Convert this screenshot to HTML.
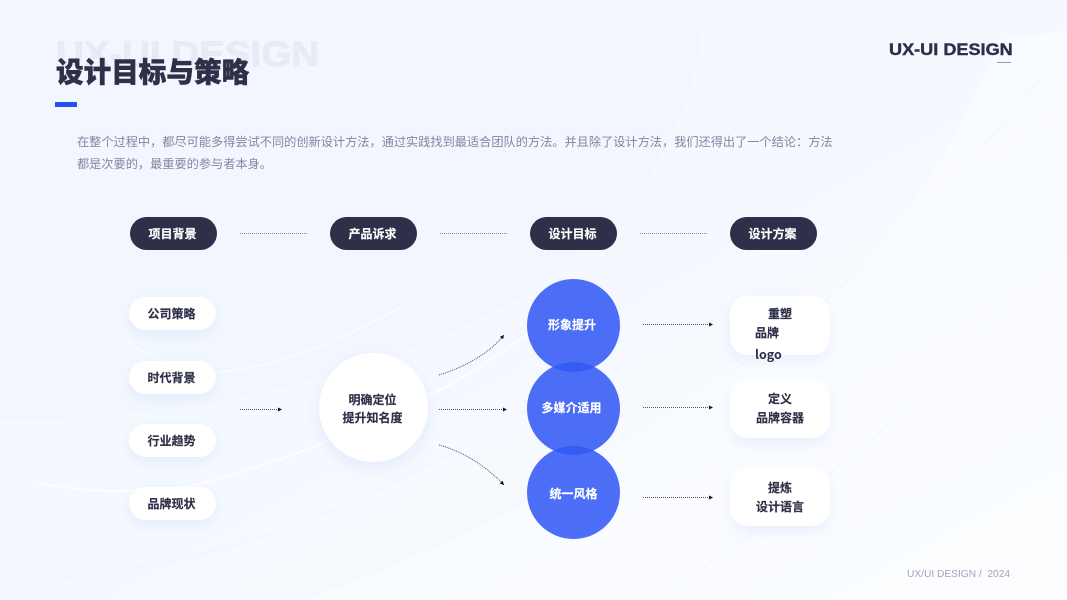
<!DOCTYPE html>
<html lang="zh"><head><meta charset="utf-8"><style>
html,body{margin:0;padding:0}
#p{position:relative;width:1067px;height:600px;overflow:hidden;background:#f5f8ff;font-family:"Liberation Sans","Noto Sans CJK SC",sans-serif}
#p>svg{position:absolute;left:0;top:0}
.t{position:absolute;white-space:nowrap;line-height:1}
.b{position:absolute;display:flex;align-items:center;justify-content:center;text-align:center;font-size:12px;font-weight:700;box-sizing:border-box;line-height:19px;padding:2px 2px 0 0;-webkit-text-stroke:.15px currentColor}
.d{background:#2e2f48;color:#fff;width:87px;height:33px;top:217px;border-radius:17px}
.w{background:#fff;color:#2e2f48;width:87px;height:33px;left:129px;border-radius:17px;box-shadow:0 5px 12px rgba(120,150,235,.12)}
.c{background:rgba(50,88,245,.87);color:#fff;width:93px;height:93px;left:527px;border-radius:50%}
.r{background:#fff;color:#2e2f48;width:100px;height:59px;left:730px;border-radius:18px;box-shadow:0 6px 14px rgba(120,150,235,.12)}
</style></head><body><div id="p">
<svg width="1067" height="600" viewBox="0 0 1067 600" fill="none">
<defs>
<linearGradient id="g" x1="0" y1="0" x2="1" y2="1"><stop offset="0" stop-color="#f4f8fe"/><stop offset=".45" stop-color="#f4f8ff"/><stop offset="1" stop-color="#fbfdff"/></linearGradient>
<marker id="a" markerWidth="5" markerHeight="5" refX="4" refY="2" orient="auto" markerUnits="userSpaceOnUse"><path d="M0 0L4 2L0 4Z" fill="#111"/></marker>
</defs>
<rect width="1067" height="600" fill="url(#g)"/>
<path d="M0 0H705C695 130 640 215 530 292C400 370 200 420 0 420Z" fill="#f0f5ff" opacity=".5"/>
<path d="M1067 30L1000 40C950 160 890 240 830 290C760 350 650 430 530 500C420 560 340 590 290 600H1067Z" fill="#fbfdff" opacity=".5"/>
<path d="M120 335C150 362 190 372 220 372C290 365 350 335 405 305" stroke="#fff" stroke-width="1.5" opacity=".55"/>
<path d="M35 482C90 494 150 493 190 486C280 465 370 425 430 395C470 375 505 350 534 330" stroke="#fff" stroke-width="2" opacity=".75"/>
<path d="M50 578C180 570 300 530 420 470C480 440 510 420 534 405C590 365 620 345 640 325" stroke="#eef4fd" stroke-width="1"/>
<path d="M300 600C380 570 470 530 534 495M720 380C850 290 950 190 1040 80" stroke="#f1f5fe" stroke-width="1"/>
<path d="M655 600C760 530 900 430 1010 305" stroke="#f2f6fe" stroke-width="1"/>
<g stroke="#555" stroke-width="1" stroke-dasharray="1 1">
<path d="M240 233.500H308M440 233.500H508M640 233.500H708" stroke="#888"/>
<path d="M240 409.500H282" marker-end="url(#a)"/>
<path d="M439 409.500H507" marker-end="url(#a)"/>
<path d="M439 375C470 365 490 352 504 335" marker-end="url(#a)"/>
<path d="M439 445C465 452 488 468 504 485" marker-end="url(#a)"/>
<path d="M643 324.500H713" marker-end="url(#a)"/>
<path d="M643 407.500H713" marker-end="url(#a)"/>
<path d="M643 497.500H713" marker-end="url(#a)"/>
</g>
</svg>
<div class="t" style="left:56px;top:37px;font-size:35px;font-weight:700;color:#444;opacity:.06;transform:scaleX(1.1);transform-origin:0 0;-webkit-text-stroke:1px #444">UX-UI DESIGN</div>
<div class="t" style="left:56px;top:59px;font-size:27.600px;font-weight:900;color:#2e2f48;-webkit-text-stroke:.5px #2e2f48">设计目标与策略</div>
<div style="position:absolute;left:55px;top:102px;width:22px;height:5px;background:#2a4ff0"></div>
<div class="t" style="left:77px;top:131px;font-size:12.200px;color:#85859f;line-height:22px">在整个过程中，都尽可能多得尝试不同的创新设计方法，通过实践找到最适合团队的方法。并且除了设计方法，我们还得出了一个结论：方法<br>都是次要的，最重要的参与者本身。</div>
<div class="t" style="left:889px;top:41px;font-size:17px;font-weight:700;color:#2e2f48;transform:scaleX(1.065);transform-origin:0 0;-webkit-text-stroke:.4px #2e2f48">UX-UI DESIGN</div>
<div style="position:absolute;left:997px;top:62px;width:14px;height:1px;background:#9a9aa8"></div>
<div class="t" style="left:907px;top:570px;font-size:10.200px;color:#a3a3b8">UX/UI DESIGN /&nbsp; 2024</div>

<div class="b d" style="left:130px">项目背景</div>
<div class="b d" style="left:330px">产品诉求</div>
<div class="b d" style="left:530px">设计目标</div>
<div class="b d" style="left:730px">设计方案</div>

<div class="b w" style="top:297px">公司策略</div>
<div class="b w" style="top:361px">时代背景</div>
<div class="b w" style="top:424px">行业趋势</div>
<div class="b w" style="top:487px">品牌现状</div>

<div class="b" style="left:319px;top:353px;width:109px;height:109px;border-radius:50%;background:#fff;color:#2e2f48;line-height:18px;padding-top:3px;box-shadow:0 6px 16px rgba(120,150,235,.14)">明确定位<br>提升知名度</div>

<div class="b c" style="top:279px;padding:0 3px 0 0">形象提升</div>
<div class="b c" style="top:362px;padding:0 4px 0 0">多媒介适用</div>
<div class="b c" style="top:446px;padding:4px 0 0 0">统一风格</div>

<div class="b r" style="top:296px"></div>
<div class="t" style="left:768px;top:308px;font-size:12px;font-weight:700;color:#2e2f48;-webkit-text-stroke:.15px #2e2f48">重塑</div>
<div class="t" style="left:755px;top:327px;font-size:12px;font-weight:700;color:#2e2f48;-webkit-text-stroke:.15px #2e2f48">品牌</div>
<div class="t" style="left:755px;top:348px;font-size:12.500px;font-weight:700;font-family:'Noto Sans CJK SC',sans-serif;color:#2e2f48">logo</div>
<div class="b r" style="top:379px;padding:1px 0 0 0">定义<br>品牌容器</div>
<div class="b r" style="top:467px;padding:2px 0 0 0">提炼<br>设计语言</div>
</div></body></html>
